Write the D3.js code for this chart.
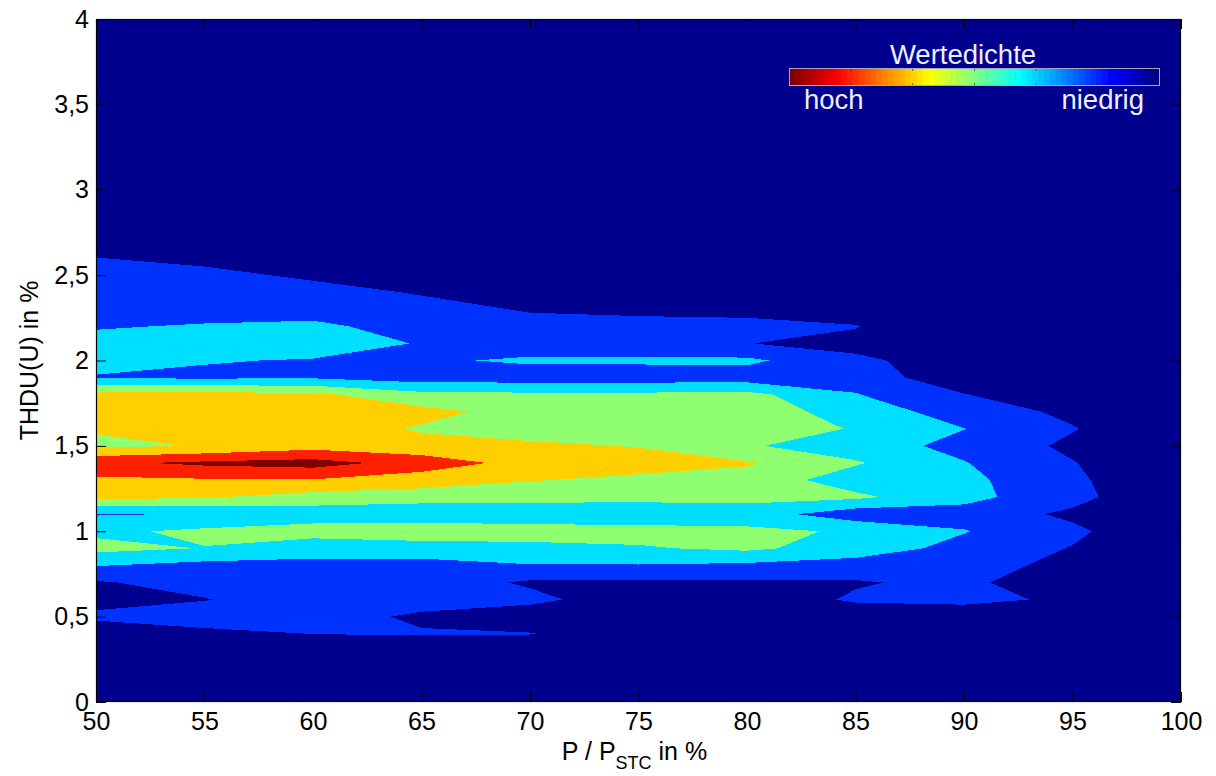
<!DOCTYPE html>
<html><head><meta charset="utf-8">
<script src="https://cdn.jsdelivr.net/npm/d3@7"></script>
<style>
html,body{margin:0;padding:0;background:#fff;}
svg{display:block;}
text{font-family:"Liberation Sans",Arial,Helvetica,sans-serif;}
</style></head><body>
<svg id="chart" width="1216" height="776"></svg>
<script>
// ---------------- data ----------------
const powerPct = [50,55,60,65,70,75,80,85,90,95,100];           // x grid, P / P_STC in %
const thduPct = [0,0.1,0.2,0.3,0.4,0.5,0.6,0.7,0.8,0.9,1.0,1.1,1.2,1.3,1.4,1.5,1.6,1.7,1.8,1.9,2.0,
                 2.1,2.2,2.3,2.4,2.5,2.6,2.7,2.8,2.9,3.0,3.1,3.2,3.3,3.4,3.5,3.6,3.7,3.8,3.9,4.0]; // y grid, THDU(U) in %
// value density (level units), one row per thduPct value, one column per powerPct value
const density = [
  [0,0,0,0,0,0,0,0,0,0,0],
  [0,0,0,0,0,0,0,0,0,0,0],
  [0,0,0,0,0,0,0,0,0,0,0],
  [0,0,0.3,0,0,0,0,0,0,0,0],
  [0,0.7,1.02,1.1,1.05,0.3,0,0,0,0,0],
  [1.3,1.6,1.5,0.8,0.3,0.2,0,0.3,0.3,0,0],
  [0.5,0.95,1.6,1.5,1.3,0.3,0.3,1.15,1.3,0.8,0],
  [0.9,1.4,1.6,1.6,0.85,0.85,0.85,0.9,1.3,0.05,0],
  [2.05,1.7,1.8,1.8,1.95,1.95,1.8,1.6,1.5,0.64,0],
  [3.3,2.97,2.3,2.3,2.7,2.9,3.2,2.5,1.7,0.95,0],
  [2.8,3.2,3.5,3.9,3.5,3.4,3.2,2.9,2.05,1.22,0],
  [1.93,2.05,2.4,2.1,2.3,2.3,2.5,1.4,1.6,0.8,0],
  [4.3,4.1,3.6,3.53,3.35,3.3,3.3,3.2,2.3,1.32,0],
  [4.8,4.9,4.95,4.45,4.05,3.8,3.6,2.5,2.25,1.2,0],
  [5.8,6.2,6.4,5.6,4.6,4.4,4.1,3.1,2.05,1.05,0],
  [3.8,4.05,4.6,4.3,4.2,3.95,3.1,2.5,1.7,0.8,0],
  [4.1,4.1,4.5,3.9,3.5,3.5,3.4,2.95,2.02,1.06,0],
  [4.5,4.5,4.6,4.3,3.6,3.5,3.5,2.6,1.5,0.8,0],
  [4.3,4.4,4.2,3.3,3.2,3.2,3.3,2.05,1.05,0,0],
  [1.9,1.85,1.9,1.5,1.5,1.5,1.5,1.6,0.3,0,0],
  [2.5,2.05,1.95,1.85,2.15,2.15,2.2,1.2,0.5,0,0],
  [2.4,2.4,2.4,1.95,1.5,1.5,1.02,0.7,0,0,0],
  [1.9,2.1,2.15,1.7,1.4,1.3,1.4,1.05,0,0,0],
  [1.6,1.5,1.7,1.4,0.9,0.8,0.6,0.5,0,0,0],
  [1.5,1.4,1.4,0.9,0,0,0,0,0,0,0],
  [1.4,1.3,0.8,0.2,0,0,0,0,0,0,0],
  [1.02,0.7,0,0,0,0,0,0,0,0,0],
  [0,0,0,0,0,0,0,0,0,0,0],
  [0,0,0,0,0,0,0,0,0,0,0],
  [0,0,0,0,0,0,0,0,0,0,0],
  [0,0,0,0,0,0,0,0,0,0,0],
  [0,0,0,0,0,0,0,0,0,0,0],
  [0,0,0,0,0,0,0,0,0,0,0],
  [0,0,0,0,0,0,0,0,0,0,0],
  [0,0,0,0,0,0,0,0,0,0,0],
  [0,0,0,0,0,0,0,0,0,0,0],
  [0,0,0,0,0,0,0,0,0,0,0],
  [0,0,0,0,0,0,0,0,0,0,0],
  [0,0,0,0,0,0,0,0,0,0,0],
  [0,0,0,0,0,0,0,0,0,0,0],
  [0,0,0,0,0,0,0,0,0,0,0]
];
const levelThresholds = [1,2,3,4,5,6];
const levelColors = ["#00008F","#0032FF","#00DFFF","#8FFF70","#FFCF00","#FF2000","#800000"];
const xTickValues = [50,55,60,65,70,75,80,85,90,95,100];
const yTickValues = [0,0.5,1,1.5,2,2.5,3,3.5,4];
const yTickLabels = ["0","0,5","1","1,5","2","2,5","3","3,5","4"];
const legendTitle = "Wertedichte";
const legendHigh = "hoch";
const legendLow = "niedrig";

// ---------------- layout ----------------
const W = 1216, H = 776;
const plot = {left: 96, right: 1181, top: 19, bottom: 702};
const svg = d3.select("#chart");
svg.append("rect").attr("width", W).attr("height", H).attr("fill", "#fff");

const x = d3.scaleLinear().domain([powerPct[0], powerPct[powerPct.length-1]]).range([plot.left, plot.right]);
const y = d3.scaleLinear().domain([thduPct[0], thduPct[thduPct.length-1]]).range([plot.bottom, plot.top]);

svg.append("clipPath").attr("id", "plotClip")
  .append("rect").attr("x", plot.left).attr("y", plot.top)
  .attr("width", plot.right - plot.left).attr("height", plot.bottom - plot.top);

const nx = powerPct.length, ny = thduPct.length;
const values = density.flat();
const contours = d3.contours().size([nx, ny]).thresholds(levelThresholds)(values);
const ix = d3.scaleLinear().domain([0, nx - 1]).range([powerPct[0], powerPct[nx - 1]]);
const iy = d3.scaleLinear().domain([0, ny - 1]).range([thduPct[0], thduPct[ny - 1]]);
const proj = d3.geoTransform({
  point(px, py) { this.stream.point(x(ix(px - 0.5)), y(iy(py - 0.5))); }
});
const path = d3.geoPath(proj);

const gPlot = svg.append("g").attr("clip-path", "url(#plotClip)");
gPlot.append("rect").attr("x", plot.left).attr("y", plot.top)
  .attr("width", plot.right - plot.left).attr("height", plot.bottom - plot.top)
  .attr("fill", levelColors[0]);
gPlot.selectAll("path.band").data(contours).join("path")
  .attr("class", "band")
  .attr("d", path)
  .attr("fill", (d, i) => levelColors[i + 1])
  .attr("shape-rendering", "crispEdges");

// ---------------- axes ----------------
const fontSize = 25;
function styleAxis(g) {
  g.select(".domain").remove();
  g.selectAll(".tick line").attr("stroke", "#000").attr("stroke-width", 1);
  g.selectAll(".tick text").attr("font-size", fontSize).attr("fill", "#000")
    .attr("font-family", '"Liberation Sans", Arial, sans-serif');
}
svg.append("g").attr("transform", `translate(0,${plot.bottom})`)
  .call(d3.axisBottom(x).tickValues(xTickValues).tickFormat(d3.format("d"))
    .tickSizeInner(-10).tickSizeOuter(0).tickPadding(10))
  .call(styleAxis);
svg.append("g").attr("transform", `translate(0,${plot.top})`)
  .call(d3.axisTop(x).tickValues(xTickValues).tickFormat("")
    .tickSizeInner(-10).tickSizeOuter(0))
  .call(styleAxis);
svg.append("g").attr("transform", `translate(${plot.left},0)`)
  .call(d3.axisLeft(y).tickValues(yTickValues).tickFormat((d, i) => yTickLabels[i])
    .tickSizeInner(-10).tickSizeOuter(0).tickPadding(7))
  .call(styleAxis);
svg.append("g").attr("transform", `translate(${plot.right},0)`)
  .call(d3.axisRight(y).tickValues(yTickValues).tickFormat("")
    .tickSizeInner(-10).tickSizeOuter(0))
  .call(styleAxis);

svg.append("rect").attr("x", plot.left + 0.5).attr("y", plot.top + 0.5)
  .attr("width", plot.right - plot.left - 1).attr("height", plot.bottom - plot.top - 1)
  .attr("fill", "none").attr("stroke", "#000").attr("stroke-width", 1.2);

// axis titles
const xl = svg.append("text").attr("x", (plot.left + plot.right) / 2 - 4).attr("y", 760)
  .attr("text-anchor", "middle").attr("font-size", fontSize).attr("fill", "#000");
xl.append("tspan").text("P / P");
xl.append("tspan").attr("font-size", 18).attr("dy", 9).text("STC");
xl.append("tspan").attr("dy", -9).text(" in %");

svg.append("text").attr("transform", `translate(38,${(plot.top + plot.bottom) / 2}) rotate(-90)`)
  .attr("text-anchor", "middle").attr("font-size", fontSize).attr("fill", "#000")
  .text("THDU(U) in %");

// ---------------- legend (colour bar) ----------------
const bar = {x0: 789, x1: 1160, y0: 68, y1: 86};
function jet(t) {
  const c = v => Math.max(0, Math.min(1, v));
  const r = c(1.5 - Math.abs(4 * t - 3)), g = c(1.5 - Math.abs(4 * t - 2)), b = c(1.5 - Math.abs(4 * t - 1));
  return d3.rgb(r * 255, g * 255, b * 255);
}
const nSteps = 64;
const band = d3.scaleBand().domain(d3.range(nSteps)).range([bar.x0, bar.x1]);
const gLeg = svg.append("g");
gLeg.selectAll("rect.cb").data(d3.range(nSteps)).join("rect")
  .attr("class", "cb")
  .attr("x", d => band(d)).attr("y", bar.y0)
  .attr("width", band.bandwidth() + 0.6).attr("height", bar.y1 - bar.y0)
  .attr("fill", d => jet(1 - d / (nSteps - 1)));
const tickPos = d3.scaleLinear().domain([0, 6]).range([bar.x0, bar.x1]);
[1, 2, 3, 4, 5].forEach(k => {
  gLeg.append("line").attr("x1", tickPos(k)).attr("x2", tickPos(k))
    .attr("y1", bar.y0).attr("y2", bar.y0 + 3).attr("stroke", "#333").attr("stroke-opacity", 0.7);
  gLeg.append("line").attr("x1", tickPos(k)).attr("x2", tickPos(k))
    .attr("y1", bar.y1 - 3).attr("y2", bar.y1).attr("stroke", "#333").attr("stroke-opacity", 0.7);
});
gLeg.append("rect").attr("x", bar.x0 + 0.5).attr("y", bar.y0 + 0.5)
  .attr("width", bar.x1 - bar.x0 - 1).attr("height", bar.y1 - bar.y0 - 1)
  .attr("fill", "none").attr("stroke", "#A8A8B8").attr("stroke-width", 1);
gLeg.append("text").attr("x", 963).attr("y", 64)
  .attr("text-anchor", "middle").attr("font-size", 27.5).attr("fill", "#EEEEFF").text(legendTitle);
gLeg.append("text").attr("x", 804).attr("y", 109)
  .attr("text-anchor", "start").attr("font-size", 27.5).attr("fill", "#EEEEFF").text(legendHigh);
gLeg.append("text").attr("x", 1144).attr("y", 109)
  .attr("text-anchor", "end").attr("font-size", 27.5).attr("fill", "#EEEEFF").text(legendLow);
</script>
</body></html>
